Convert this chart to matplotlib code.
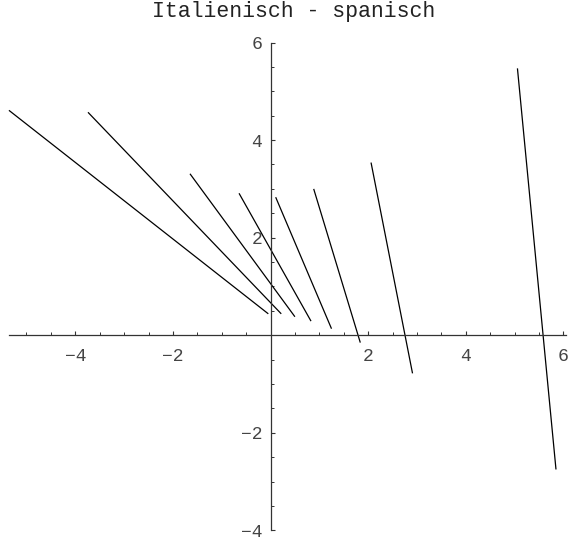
import matplotlib
matplotlib.use("Agg")
import matplotlib.pyplot as plt
import numpy as np

title = "Italienisch - spanisch"
x_start = [-5.36, -3.74, -1.65, -0.645, 0.106, 0.885, 2.06, 5.06]
y_start = [4.61, 4.57, 3.31, 2.91, 2.83, 3.00, 3.54, 5.47]
x_end = [-0.045, 0.22, 0.50, 0.83, 1.25, 1.84, 2.91, 5.85]
y_end = [0.44, 0.44, 0.38, 0.29, 0.135, -0.15, -0.78, -2.75]
x_major = [-4, -2, 2, 4, 6]
y_major = [-4, -2, 2, 4, 6]
x_range = (-5.36, 6.06)
y_range = (-4, 6)

font = "Liberation Mono"
fig = plt.figure(figsize=(5.68, 5.42), dpi=100)
ax = fig.add_axes([0, 0, 1, 1])
ax.set_xlim(-5.543, 6.096)
ax.set_ylim(-4.236, 6.871)

for xs, ys, xe, ye in zip(x_start, y_start, x_end, y_end):
    ax.plot([xs, xe], [ys, ye], color="black", lw=0.9, solid_capstyle="butt")

for s in ["top", "right"]:
    ax.spines[s].set_visible(False)
ax.spines["left"].set_position(("data", 0))
ax.spines["bottom"].set_position(("data", 0))
ax.spines["left"].set_bounds(*y_range)
ax.spines["bottom"].set_bounds(*x_range)
for s in ["left", "bottom"]:
    ax.spines[s].set_color("#333333")
    ax.spines[s].set_linewidth(0.9)

ax.set_xticks(x_major)
ax.set_yticks(y_major)
xminor = [v for v in np.arange(-5.0, 6.01, 0.5) if v not in x_major and v != 0]
yminor = [v for v in np.arange(-4.0, 6.01, 0.5) if v not in y_major and v != 0]
ax.set_xticks(xminor, minor=True)
ax.set_yticks(yminor, minor=True)
ax.set_xticklabels([str(v) if v >= 0 else "\u2212" + str(-v) for v in x_major])
ax.set_yticklabels([str(v) if v >= 0 else "\u2212" + str(-v) for v in y_major])
ax.tick_params(which="major", direction="in", length=3.2, width=0.8, color="#333333",
               labelsize=13, labelcolor="#444444")
ax.tick_params(which="minor", direction="in", length=2.0, width=0.7, color="#333333")
ax.tick_params(axis="x", which="major", pad=9)
ax.tick_params(axis="y", which="major", pad=6)
for lab in ax.get_xticklabels() + ax.get_yticklabels():
    lab.set_fontfamily(font)

fig.text(294 / 568, 1 - 12 / 542, title, ha="center", va="center",
         fontsize=15.5, family=font, color="#222222")

fig.savefig("out.png", dpi=100)
